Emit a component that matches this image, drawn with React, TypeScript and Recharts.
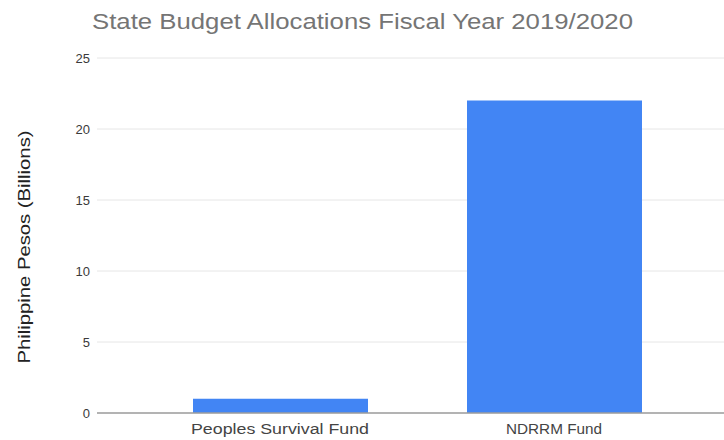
import React from 'react';
import { BarChart, Bar, XAxis, YAxis, CartesianGrid } from 'recharts';

const categories = ['Peoples Survival Fund', 'NDRRM Fund'];
const allocations = [1, 22];
const yTicks = [0, 5, 10, 15, 20, 25];
const chartTitle = 'State Budget Allocations Fiscal Year 2019/2020';
const yAxisTitle = 'Philippine Pesos (Billions)';

const data = categories.map((name, i) => ({ name, value: allocations[i] }));

const FONT = '"Liberation Sans", Arial, sans-serif';
const tickTextLength: Record<string, number> = {
  'Peoples Survival Fund': 178,
  'NDRRM Fund': 96,
};

const XTick = (props: any) => {
  const { x, y, payload } = props;
  return (
    <text
      x={x}
      y={y + 21}
      textAnchor="middle"
      fontFamily={FONT}
      fontSize={14}
      fill="#444"
      textLength={tickTextLength[payload.value]}
      lengthAdjust="spacingAndGlyphs"
    >
      {payload.value}
    </text>
  );
};

export default function App() {
  return (
    <div style={{ position: 'absolute', left: 0, top: 0, width: 724, height: 440, background: '#fff' }}>
      <BarChart
        width={724}
        height={440}
        data={data}
        margin={{ top: 58, right: 0, bottom: 0, left: 0 }}
      >
        <CartesianGrid vertical={false} stroke="#e6e6e6" />
        <XAxis
          dataKey="name"
          height={27}
          tick={<XTick />}
          tickLine={false}
          tickSize={0}
          tickMargin={0}
          axisLine={{ stroke: '#9e9e9e', strokeWidth: 1.5 }}
          padding={{ left: 46, right: 33 }}
          interval={0}
        />
        <YAxis
          width={97}
          domain={[0, 25]}
          ticks={yTicks}
          tickLine={false}
          axisLine={false}
          tickSize={0}
          tickMargin={7}
          tick={{ fontFamily: FONT, fontSize: 13, fill: '#3a3a3a' }}
        />
        <Bar dataKey="value" fill="#4285F4" barSize={175} isAnimationActive={false} />
      </BarChart>
      <svg width={724} height={440} style={{ position: 'absolute', left: 0, top: 0, pointerEvents: 'none' }}>
        <text
          x={362.5}
          y={29}
          textAnchor="middle"
          fontFamily={FONT}
          fontSize={22}
          fill="#757575"
          textLength={541}
          lengthAdjust="spacingAndGlyphs"
        >
          {chartTitle}
        </text>
        <text
          x={0}
          y={0}
          transform="translate(30, 247) rotate(-90)"
          textAnchor="middle"
          fontFamily={FONT}
          fontSize={17}
          fill="#222"
          textLength={233}
          lengthAdjust="spacingAndGlyphs"
        >
          {yAxisTitle}
        </text>
      </svg>
    </div>
  );
}
